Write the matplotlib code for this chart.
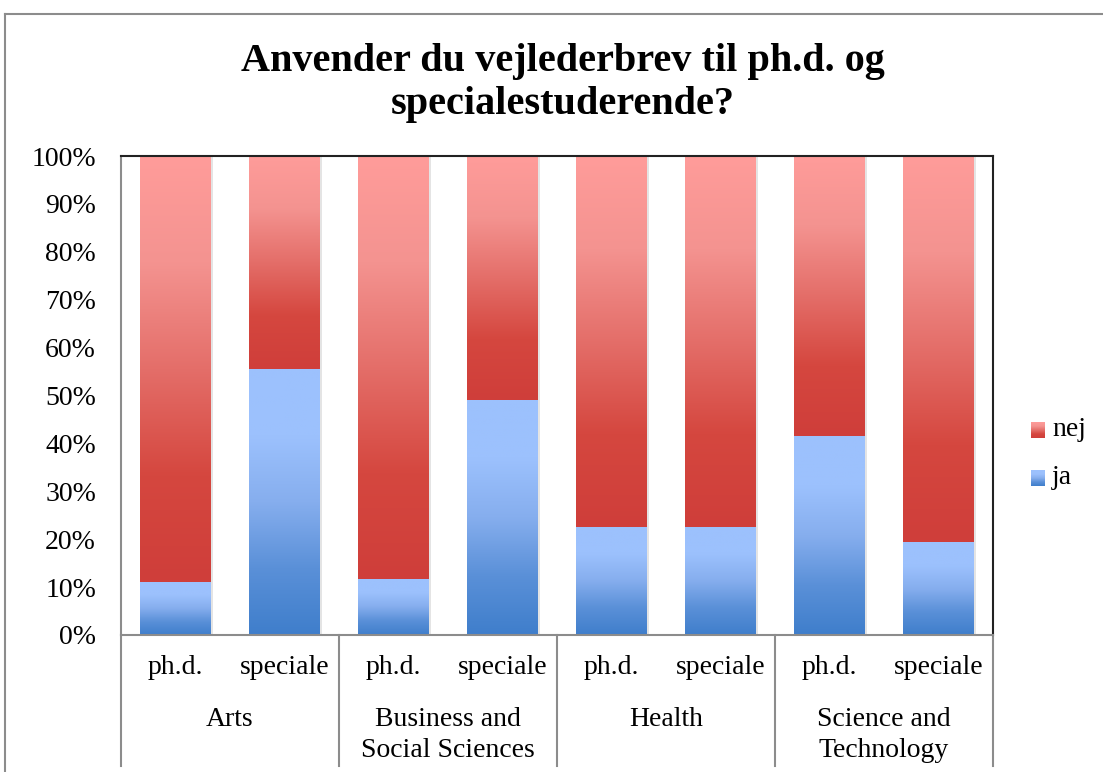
import numpy as np
import matplotlib
matplotlib.use("Agg")
import matplotlib.pyplot as plt
from matplotlib.colors import LinearSegmentedColormap
from matplotlib.transforms import blended_transform_factory

plt.rcParams['font.family'] = ['Liberation Serif', 'DejaVu Serif']

# data (share of answers, %)
groups = ['Arts', 'Business and\nSocial Sciences', 'Health', 'Science and\nTechnology']
levels = ['ph.d.', 'speciale']
ja = [11.1, 55.5, 11.7, 49.1, 22.6, 22.6, 41.5, 19.4]
nej = [100 - v for v in ja]
series_names = ['ja', 'nej']
title = 'Anvender du vejlederbrev til ph.d. og\nspecialestuderende?'

blue_cm = LinearSegmentedColormap.from_list('blue', ['#3f7ecb', '#5a90d8', '#86aeee', '#9cc1fd', '#9cc1fd'])
red_cm = LinearSegmentedColormap.from_list('red', ['#cf3e3a', '#d5473f', '#e46e69', '#f49390', '#ff9c9a'])

W, H = 1103, 772
fig = plt.figure(figsize=(W / 100, H / 100), dpi=100)

# outer chart frame (top + left only visible)
fig.add_artist(plt.Line2D([5 / W, 1], [1 - 14 / H, 1 - 14 / H], color='#8c8c8c', lw=1.5))
fig.add_artist(plt.Line2D([5 / W, 5 / W], [0, 1 - 14 / H], color='#8c8c8c', lw=1.5))

ax_l, ax_r, ax_t, ax_b = 121, 993, 156, 635
ax = fig.add_axes([ax_l / W, 1 - ax_b / H, (ax_r - ax_l) / W, (ax_b - ax_t) / H])

x = np.arange(len(ja))
width = 0.65
grad = np.linspace(0, 1, 256).reshape(-1, 1)

# soft shadow on the right of each bar
ax.bar(x + 0.02, 100, width, color='#e4e4e4', zorder=1, linewidth=0)

for xi, j, n in zip(x, ja, nej):
    for bottom, h, cm in [(0, j, blue_cm), (j, n, red_cm)]:
        b = ax.bar(xi, h, width, bottom=bottom, color='none', linewidth=0, zorder=2)[0]
        im = ax.imshow(grad, cmap=cm, origin='lower', aspect='auto', zorder=2,
                       extent=[xi - width / 2, xi + width / 2, bottom, bottom + h])
        im.set_clip_path(b)

ax.set_xlim(-0.5, len(ja) - 0.5)
ax.set_ylim(0, 100)
ax.set_yticks(range(0, 101, 10))
ax.set_yticklabels([f'{v}%' for v in range(0, 101, 10)], fontsize=20)
ax.tick_params(axis='y', length=0, pad=18)
ax.set_xticks([])
for s in ['left', 'bottom']:
    ax.spines[s].set_color('#8c8c8c')
    ax.spines[s].set_linewidth(1.5)
for s in ['top', 'right']:
    ax.spines[s].set_color('#222222')
    ax.spines[s].set_linewidth(1.5)

# two-level category axis
tr = blended_transform_factory(ax.transData, ax.transAxes)
for i, lab in enumerate(levels * len(groups)):
    ax.text(x[i], -(668 - ax_b) / (ax_b - ax_t), lab, transform=tr,
            ha='center', va='center', fontsize=20)
for g, name in enumerate(groups):
    ax.text(2 * g + 0.5, -(707 - ax_b) / (ax_b - ax_t), name, transform=tr,
            ha='center', va='top', fontsize=20, linespacing=1.3)
for sep in np.arange(-0.5, len(ja), 2):
    ax.plot([sep, sep], [0, -(766 - ax_b) / (ax_b - ax_t)], transform=tr,
            color='#8c8c8c', lw=1.5, clip_on=False)

fig.text(563 / W, 1 - 83 / H, title, ha='center', va='center',
         fontsize=29, fontweight='bold', linespacing=1.2)

# legend with gradient swatches
for name, cm, yc in [('nej', red_cm, 430), ('ja', blue_cm, 478)]:
    sw = fig.add_axes([1031 / W, 1 - (yc + 8) / H, 14 / W, 16 / H])
    sw.imshow(grad, cmap=cm, origin='lower', aspect='auto')
    sw.axis('off')
    fig.text(1052 / W, 1 - yc / H, name, ha='left', va='center', fontsize=20)

fig.savefig('out.png', dpi=100)
